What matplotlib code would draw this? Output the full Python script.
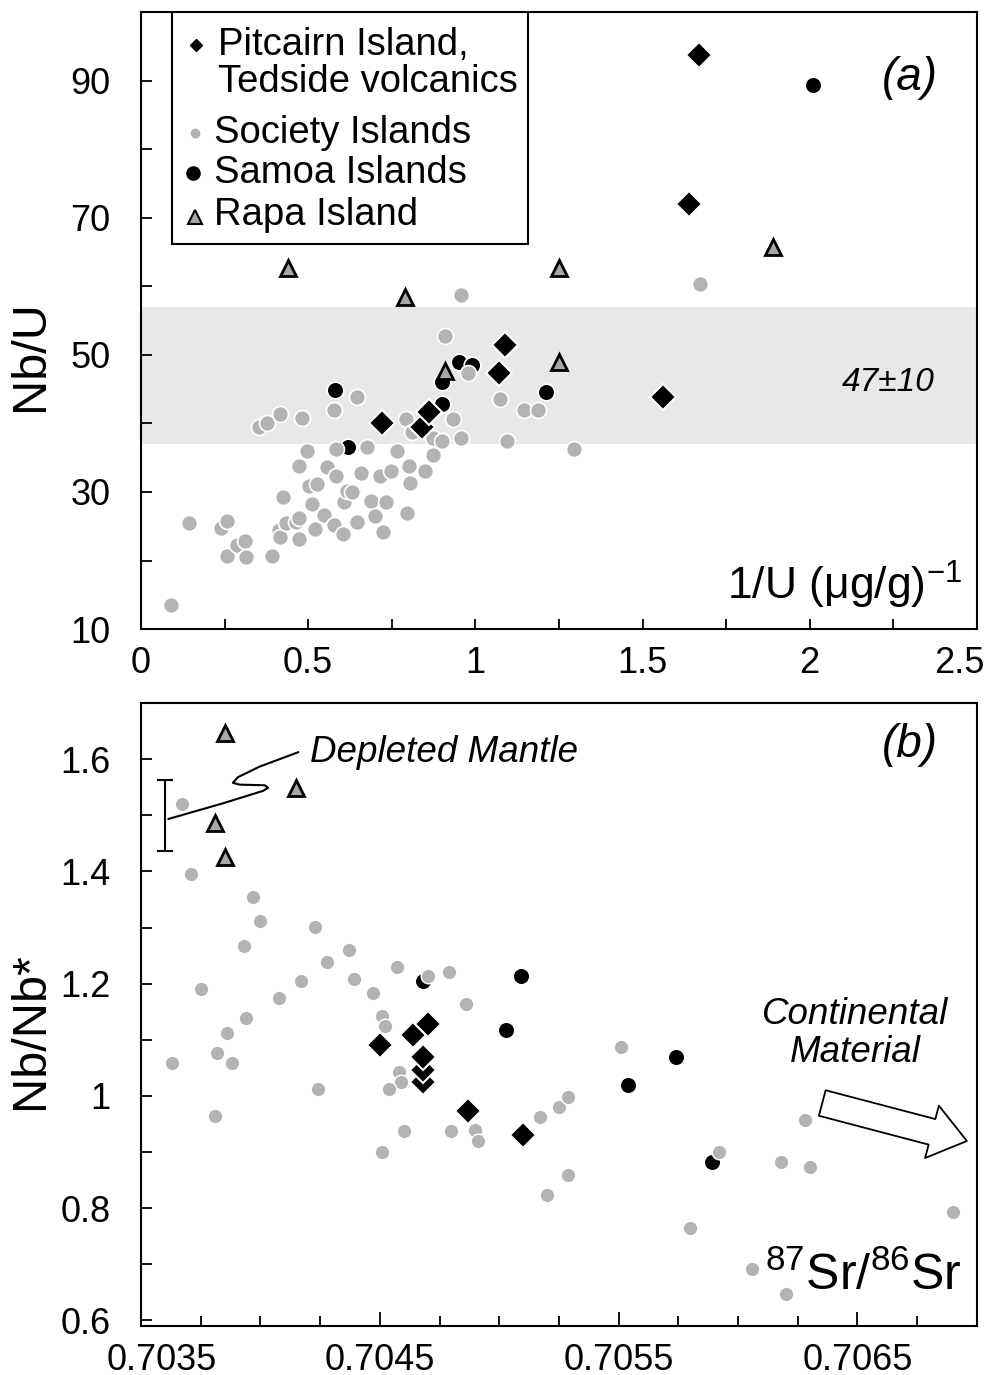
import matplotlib
matplotlib.use("Agg")
import matplotlib.pyplot as plt
from matplotlib.patches import Rectangle, FancyArrowPatch
from matplotlib.ticker import MultipleLocator, FixedLocator
from matplotlib.transforms import ScaledTranslation

plt.rcParams['font.family'] = ['Liberation Sans', 'DejaVu Sans']
plt.rcParams['mathtext.fontset'] = 'custom'
plt.rcParams['mathtext.rm'] = 'Liberation Sans'
plt.rcParams['mathtext.it'] = 'Liberation Sans:italic'

# ---- panel (a): Nb/U vs 1/U ----
pit_a_x = [0.72, 0.84, 0.86, 1.07, 1.09, 1.56, 1.64, 1.67]
pit_a_y = [40.1, 39.5, 41.7, 47.3, 51.4, 43.9, 72.0, 93.8]

sam_a_x = [0.58, 0.62, 0.90, 0.90, 0.95, 0.99, 1.21, 2.01]
sam_a_y = [44.9, 36.5, 42.9, 46.0, 49.0, 48.5, 44.6, 89.4]

rapa_a_x = [0.44, 0.79, 0.91, 1.25, 1.25, 1.89]
rapa_a_y = [62.6, 58.5, 47.6, 62.6, 49.0, 65.8]

soc_a_x = [0.089, 0.143, 0.239, 0.257, 0.257, 0.287, 0.311, 0.314, 0.392, 0.413,
           0.416, 0.425, 0.434, 0.464, 0.473, 0.473, 0.473, 0.497, 0.503, 0.512,
           0.521, 0.527, 0.548, 0.557, 0.578, 0.584, 0.584, 0.605, 0.608, 0.617,
           0.632, 0.647, 0.659, 0.677, 0.689, 0.701, 0.716, 0.725, 0.734, 0.749,
           0.767, 0.797, 0.803, 0.806, 0.848, 0.872, 0.872, 0.899, 0.956, 0.794,
           0.812, 0.932, 0.353, 0.377, 0.416, 0.482, 0.578, 0.645, 0.909, 0.977,
           0.956, 1.074, 1.146, 1.188, 1.094, 1.294, 1.673]
soc_a_y = [13.5, 25.5, 24.8, 25.8, 20.7, 22.3, 22.9, 20.5, 20.7, 24.5,
           23.5, 29.2, 25.4, 25.6, 26.2, 23.2, 33.8, 36.0, 30.9, 28.3,
           24.6, 31.2, 26.7, 33.7, 25.2, 32.4, 36.3, 23.9, 28.5, 30.2,
           30.0, 25.6, 32.7, 36.6, 28.7, 26.5, 32.4, 24.2, 28.5, 33.0,
           36.0, 27.0, 33.8, 31.3, 33.1, 35.4, 37.8, 37.5, 37.8, 40.7,
           38.8, 40.6, 39.5, 40.1, 41.4, 40.8, 42.0, 43.9, 52.7, 47.3,
           58.8, 43.6, 41.9, 41.9, 37.5, 36.3, 60.4]

band_mid = 47
band_err = 10

# ---- panel (b): Nb/Nb* vs 87Sr/86Sr ----
pit_b_x = [0.70450, 0.70464, 0.70470, 0.70468, 0.70468, 0.70468, 0.70487, 0.70510]
pit_b_y = [1.090, 1.108, 1.129, 1.024, 1.047, 1.070, 0.974, 0.930]

sam_b_x = [0.70468, 0.70509, 0.70503, 0.70554, 0.70574, 0.70589]
sam_b_y = [1.205, 1.214, 1.118, 1.019, 1.069, 0.882]

rapa_b_x = [0.70385, 0.70415, 0.70381, 0.70385]
rapa_b_y = [1.646, 1.548, 1.486, 1.426]

soc_b_x = [0.70367, 0.70371, 0.70397, 0.70400, 0.70393, 0.70423, 0.70428, 0.70437,
           0.70457, 0.70439, 0.70417, 0.70375, 0.70408, 0.70447, 0.70470, 0.70479,
           0.70486, 0.70394, 0.70451, 0.70452, 0.70363, 0.70382, 0.70386, 0.70388,
           0.70381, 0.70424, 0.70458, 0.70459, 0.70454, 0.70460, 0.70451, 0.70480,
           0.70490, 0.70491, 0.70517, 0.70525, 0.70529, 0.70529, 0.70520, 0.70551,
           0.70628, 0.70592, 0.70618, 0.70630, 0.70580, 0.70690, 0.70606, 0.70620]
soc_b_y = [1.520, 1.396, 1.355, 1.312, 1.268, 1.301, 1.239, 1.260,
           1.230, 1.209, 1.205, 1.191, 1.175, 1.184, 1.214, 1.220,
           1.164, 1.138, 1.143, 1.124, 1.058, 1.077, 1.113, 1.058,
           0.965, 1.013, 1.042, 1.024, 1.012, 0.937, 0.900, 0.937,
           0.939, 0.919, 0.962, 0.980, 0.998, 0.860, 0.823, 1.087,
           0.957, 0.900, 0.883, 0.874, 0.764, 0.793, 0.691, 0.647]

dm_x = 0.70360
dm_y = 1.50
dm_err = 0.063

GRAY = '#b3b3b3'
TRI = '#a8a8a8'

fig = plt.figure(figsize=(9.92, 13.75), dpi=100)
ax1 = fig.add_axes([0.1421, 0.5425, 0.8427, 0.4487])
ax2 = fig.add_axes([0.1421, 0.0356, 0.8427, 0.4531])

for ax in (ax1, ax2):
    for s in ax.spines.values():
        s.set_linewidth(1.5)
    ax.tick_params(which='both', direction='in', width=1.3, labelsize=26,
                   top=False, right=False)
    ax.tick_params(axis='y', which='both', length=8, pad=22)
    ax.tick_params(axis='x', which='both', length=7, pad=12)

# panel a
ax1.axhspan(band_mid - band_err, band_mid + band_err, color='#e8e8e8', lw=0, zorder=0)
ax1.plot(sam_a_x, sam_a_y, 'o', ms=12, mfc='black', mec='white', mew=1.2, zorder=2)
ax1.plot(soc_a_x, soc_a_y, 'o', ms=11.5, mfc=GRAY, mec='white', mew=1.2, zorder=3)
ax1.plot(rapa_a_x, rapa_a_y, '^', ms=12, mfc=TRI, mec='black', mew=2, zorder=4)
ax1.plot(pit_a_x, pit_a_y, 'D', ms=13, mfc='black', mec='white', mew=1.5, zorder=5)

ax1.set_xlim(0, 2.5)
ax1.set_ylim(10, 100)
ax1.xaxis.set_major_locator(FixedLocator([0, 0.5, 1.0, 1.5, 2.0, 2.5]))
ax1.xaxis.set_minor_locator(MultipleLocator(0.25))
ax1.xaxis.set_major_formatter(lambda v, p: f'{v:g}')
ax1.yaxis.set_major_locator(FixedLocator([10, 30, 50, 70, 90]))
ax1.yaxis.set_minor_locator(MultipleLocator(10))
ax1.set_ylabel('Nb/U', fontsize=35)
ax1.yaxis.set_label_coords(-0.105, 0.444)

# legend box drawn by hand
ax1.add_patch(Rectangle((0.037, 0.624), 0.426, 0.376, transform=ax1.transAxes,
                        fill=True, facecolor='white', edgecolor='black', lw=1.5,
                        zorder=6))
leg_fs = 27.5
ax1.plot([0.066], [0.946], 'D', ms=6.5, color='black', transform=ax1.transAxes, zorder=7)
ax1.text(0.092, 0.946, 'Pitcairn Island,', fontsize=leg_fs, va='center',
         transform=ax1.transAxes, zorder=7)
ax1.text(0.092, 0.887, 'Tedside volcanics', fontsize=leg_fs, va='center',
         transform=ax1.transAxes, zorder=7)
ax1.plot([0.065], [0.804], 'o', ms=6, color=GRAY, transform=ax1.transAxes, zorder=7)
ax1.text(0.087, 0.804, 'Society Islands', fontsize=leg_fs, va='center',
         transform=ax1.transAxes, zorder=7)
ax1.plot([0.062], [0.739], 'o', ms=9.5, color='black', transform=ax1.transAxes, zorder=7)
ax1.text(0.087, 0.739, 'Samoa Islands', fontsize=leg_fs, va='center',
         transform=ax1.transAxes, zorder=7)
ax1.plot([0.065], [0.668], '^', ms=9.5, mfc=TRI, mec='black', mew=1.5,
         transform=ax1.transAxes, zorder=7)
ax1.text(0.087, 0.671, 'Rapa Island', fontsize=leg_fs, va='center',
         transform=ax1.transAxes, zorder=7)

ax1.text(0.920, 0.893, '(a)', fontsize=33, style='italic', ha='center', va='center',
         transform=ax1.transAxes)
ax1.text(0.894, 0.399, '47±10', fontsize=24, style='italic', ha='center', va='center',
         transform=ax1.transAxes)
ax1.text(0.982, 0.047, r'$\mathregular{1/U\ (μg/g)^{-1}}$', fontsize=32,
         ha='right', va='baseline', transform=ax1.transAxes)

# panel b
ax2.plot(sam_b_x, sam_b_y, 'o', ms=12, mfc='black', mec='white', mew=1.2, zorder=2)
ax2.plot(soc_b_x, soc_b_y, 'o', ms=10.5, mfc=GRAY, mec='white', mew=1.0, zorder=3)
ax2.plot(rapa_b_x, rapa_b_y, '^', ms=12, mfc=TRI, mec='black', mew=2, zorder=4)
for xx, yy in zip(pit_b_x, pit_b_y):
    ax2.plot(xx, yy, 'D', ms=13.5, mfc='black', mec='white', mew=1.5, zorder=5)

ax2.errorbar(dm_x, dm_y, yerr=dm_err, fmt='none', ecolor='black', elinewidth=1.5,
             capsize=5.5, capthick=1.5, zorder=4)

ax2.set_xlim(0.7035, 0.7070)
ax2.set_ylim(0.59, 1.70)
ax2.xaxis.set_major_locator(FixedLocator([0.7035, 0.7045, 0.7055, 0.7065]))
ax2.xaxis.set_minor_locator(MultipleLocator(0.00025))
ax2.xaxis.set_major_formatter(lambda v, p: f'{v:.4f}')
ax2.tick_params(axis='x', which='major', length=10)
ax2.yaxis.set_major_locator(FixedLocator([0.6, 0.8, 1.0, 1.2, 1.4, 1.6]))
ax2.yaxis.set_major_formatter(lambda v, p: f'{v:g}')
ax2.yaxis.set_minor_locator(MultipleLocator(0.1))
ax2.set_ylabel('Nb/Nb*', fontsize=35)
ax2.yaxis.set_label_coords(-0.105, 0.475)

# leader line from the depleted mantle bar to its label
lead_x = [0.033, 0.098, 0.146, 0.152, 0.148, 0.118, 0.110, 0.116, 0.142, 0.188]
lead_y = [0.814, 0.839, 0.859, 0.864, 0.868, 0.869, 0.872, 0.881, 0.898, 0.921]
ax2.plot(lead_x, lead_y, color='black', lw=1.5, transform=ax2.transAxes, zorder=6)

ax2.text(0.202, 0.921, 'Depleted Mantle', fontsize=26.5, style='italic',
         ha='left', va='center', transform=ax2.transAxes)
ax2.text(0.920, 0.933, '(b)', fontsize=33, style='italic', ha='center', va='center',
         transform=ax2.transAxes)
ax2.text(0.854, 0.470, 'Continental\nMaterial', fontsize=26.5, style='italic',
         ha='center', va='center', linespacing=1.1, transform=ax2.transAxes)
ax2.add_patch(FancyArrowPatch((0.815, 0.358), (0.988, 0.297), transform=ax2.transAxes,
                              arrowstyle='simple,tail_width=1.9,head_width=3.9,head_length=2.6',
                              mutation_scale=10, fc='white', ec='black', lw=1.3,
                              shrinkA=0, shrinkB=0, zorder=6))
ax2.text(0.982, 0.058, r'$\mathregular{^{87}Sr/^{86}Sr}$', fontsize=36,
         ha='right', va='baseline', transform=ax2.transAxes)

# nudge the end tick labels inside the figure as in the original
fig.canvas.draw()
for lab in ax1.get_xticklabels():
    if lab.get_text() == '2.5':
        lab.set_transform(lab.get_transform() + ScaledTranslation(-0.18, 0, fig.dpi_scale_trans))
for lab in ax2.get_xticklabels():
    if lab.get_text() == '0.7035':
        lab.set_transform(lab.get_transform() + ScaledTranslation(0.21, 0, fig.dpi_scale_trans))

fig.savefig('out.png', dpi=100)
